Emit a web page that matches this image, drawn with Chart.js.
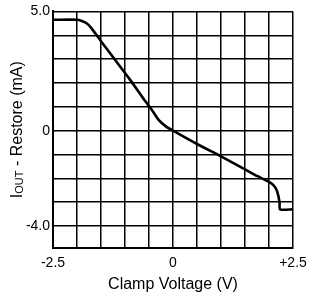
<!DOCTYPE html>
<html>
<head>
<meta charset="utf-8">
<script src="https://cdn.jsdelivr.net/npm/chart.js@4"></script>
<style>
  html, body { margin: 0; padding: 0; background: #fff; }
  #wrap { width: 315px; height: 297px; }
</style>
</head>
<body>
<div id="wrap"><canvas id="canvas"></canvas></div>
<script>
// clamp voltage (V) and restore current (mA)
var voltage = [-2.5, -2.0, -1.9, -1.8, -1.7, -1.5, -1.2, -0.9, -0.6, -0.45, -0.3, -0.15, 0, 0.5, 1.0, 1.5, 1.75, 2.0, 2.1, 2.17, 2.22, 2.23, 2.5];
var current = [4.65, 4.65, 4.6, 4.5, 4.3, 3.75, 2.95, 2.15, 1.3, 0.9, 0.45, 0.18, 0, -0.56, -1.08, -1.62, -1.9, -2.15, -2.3, -2.55, -3.0, -3.3, -3.3];

var xTicks = [-2.5, 0, 2.5];
var xTickLabels = ['-2.5', '0', '+2.5'];
var yTicks = [5, 0, -4];
var yTickLabels = ['5.0', '0', '-4.0'];

var FONT = '"Liberation Sans", Arial, sans-serif';

var points = voltage.map(function(v, i) { return { x: v, y: current[i] }; });

// axis titles, drawn by hand so the y title can carry the OUT subscript
var titles = {
  id: 'titles',
  afterDraw: function(chart) {
    var ctx = chart.ctx;
    var area = chart.chartArea;
    ctx.save();
    ctx.fillStyle = '#000';
    ctx.textBaseline = 'alphabetic';

    ctx.font = '16px ' + FONT;
    ctx.textAlign = 'center';
    ctx.fillText('Clamp Voltage (V)', (area.left + area.right) / 2, 289);

    ctx.textAlign = 'left';
    ctx.font = '16px ' + FONT;
    var wI = ctx.measureText('I').width;
    var wRest = ctx.measureText(' - Restore (mA)').width;
    ctx.font = '11px ' + FONT;
    var wSub = ctx.measureText('OUT').width;
    var total = wI + wSub + wRest;
    ctx.translate(21.5, (area.top + area.bottom) / 2 + total / 2);
    ctx.rotate(-Math.PI / 2);
    ctx.font = '16px ' + FONT;
    ctx.fillText('I', 0, 0);
    ctx.font = '11px ' + FONT;
    ctx.fillText('OUT', wI, 1);
    ctx.font = '16px ' + FONT;
    ctx.fillText(' - Restore (mA)', wI + wSub, 0);
    ctx.restore();
  }
};

window.onload = function() {
  var ctx = document.getElementById('canvas').getContext('2d');
  window.myChart = new Chart(ctx, {
    type: 'line',
    data: {
      datasets: [{
        data: points,
        borderColor: '#000',
        borderWidth: 2.6,
        pointRadius: 0,
        tension: 0.2,
        fill: false
      }]
    },
    options: {
      responsive: true,
      maintainAspectRatio: false,
      animation: false,
      layout: { padding: { top: 9, right: 22, left: 0, bottom: 0 } },
      plugins: {
        legend: { display: false },
        tooltip: { enabled: false }
      },
      scales: {
        x: {
          type: 'linear',
          min: -2.5,
          max: 2.5,
          afterFit: function(scale) { scale.height = 49; },
          afterBuildTicks: function(scale) {
            var t = [];
            for (var i = 0; i <= 10; i++) t.push({ value: -2.5 + i * 0.5 });
            scale.ticks = t;
          },
          grid: { color: '#000', lineWidth: 1.5, drawTicks: false },
          border: { color: '#000', width: 2 },
          ticks: {
            autoSkip: false,
            maxRotation: 0,
            padding: 7,
            color: '#000',
            font: { family: FONT, size: 14 },
            callback: function(v) {
              var k = xTicks.indexOf(v);
              return k < 0 ? '' : xTickLabels[k];
            }
          }
        },
        y: {
          min: -4.92,
          max: 5,
          afterFit: function(scale) { scale.width = 53; },
          afterBuildTicks: function(scale) {
            var t = [];
            for (var v = -4; v <= 5; v++) t.push({ value: v });
            scale.ticks = t;
          },
          grid: { color: '#000', lineWidth: 1.5, drawTicks: false },
          border: { color: '#000', width: 2 },
          ticks: {
            autoSkip: false,
            padding: 3,
            color: '#000',
            font: { family: FONT, size: 14 },
            callback: function(v) {
              var k = yTicks.indexOf(v);
              return k < 0 ? '' : yTickLabels[k];
            }
          }
        }
      }
    },
    plugins: [titles]
  });
};
</script>
</body>
</html>
